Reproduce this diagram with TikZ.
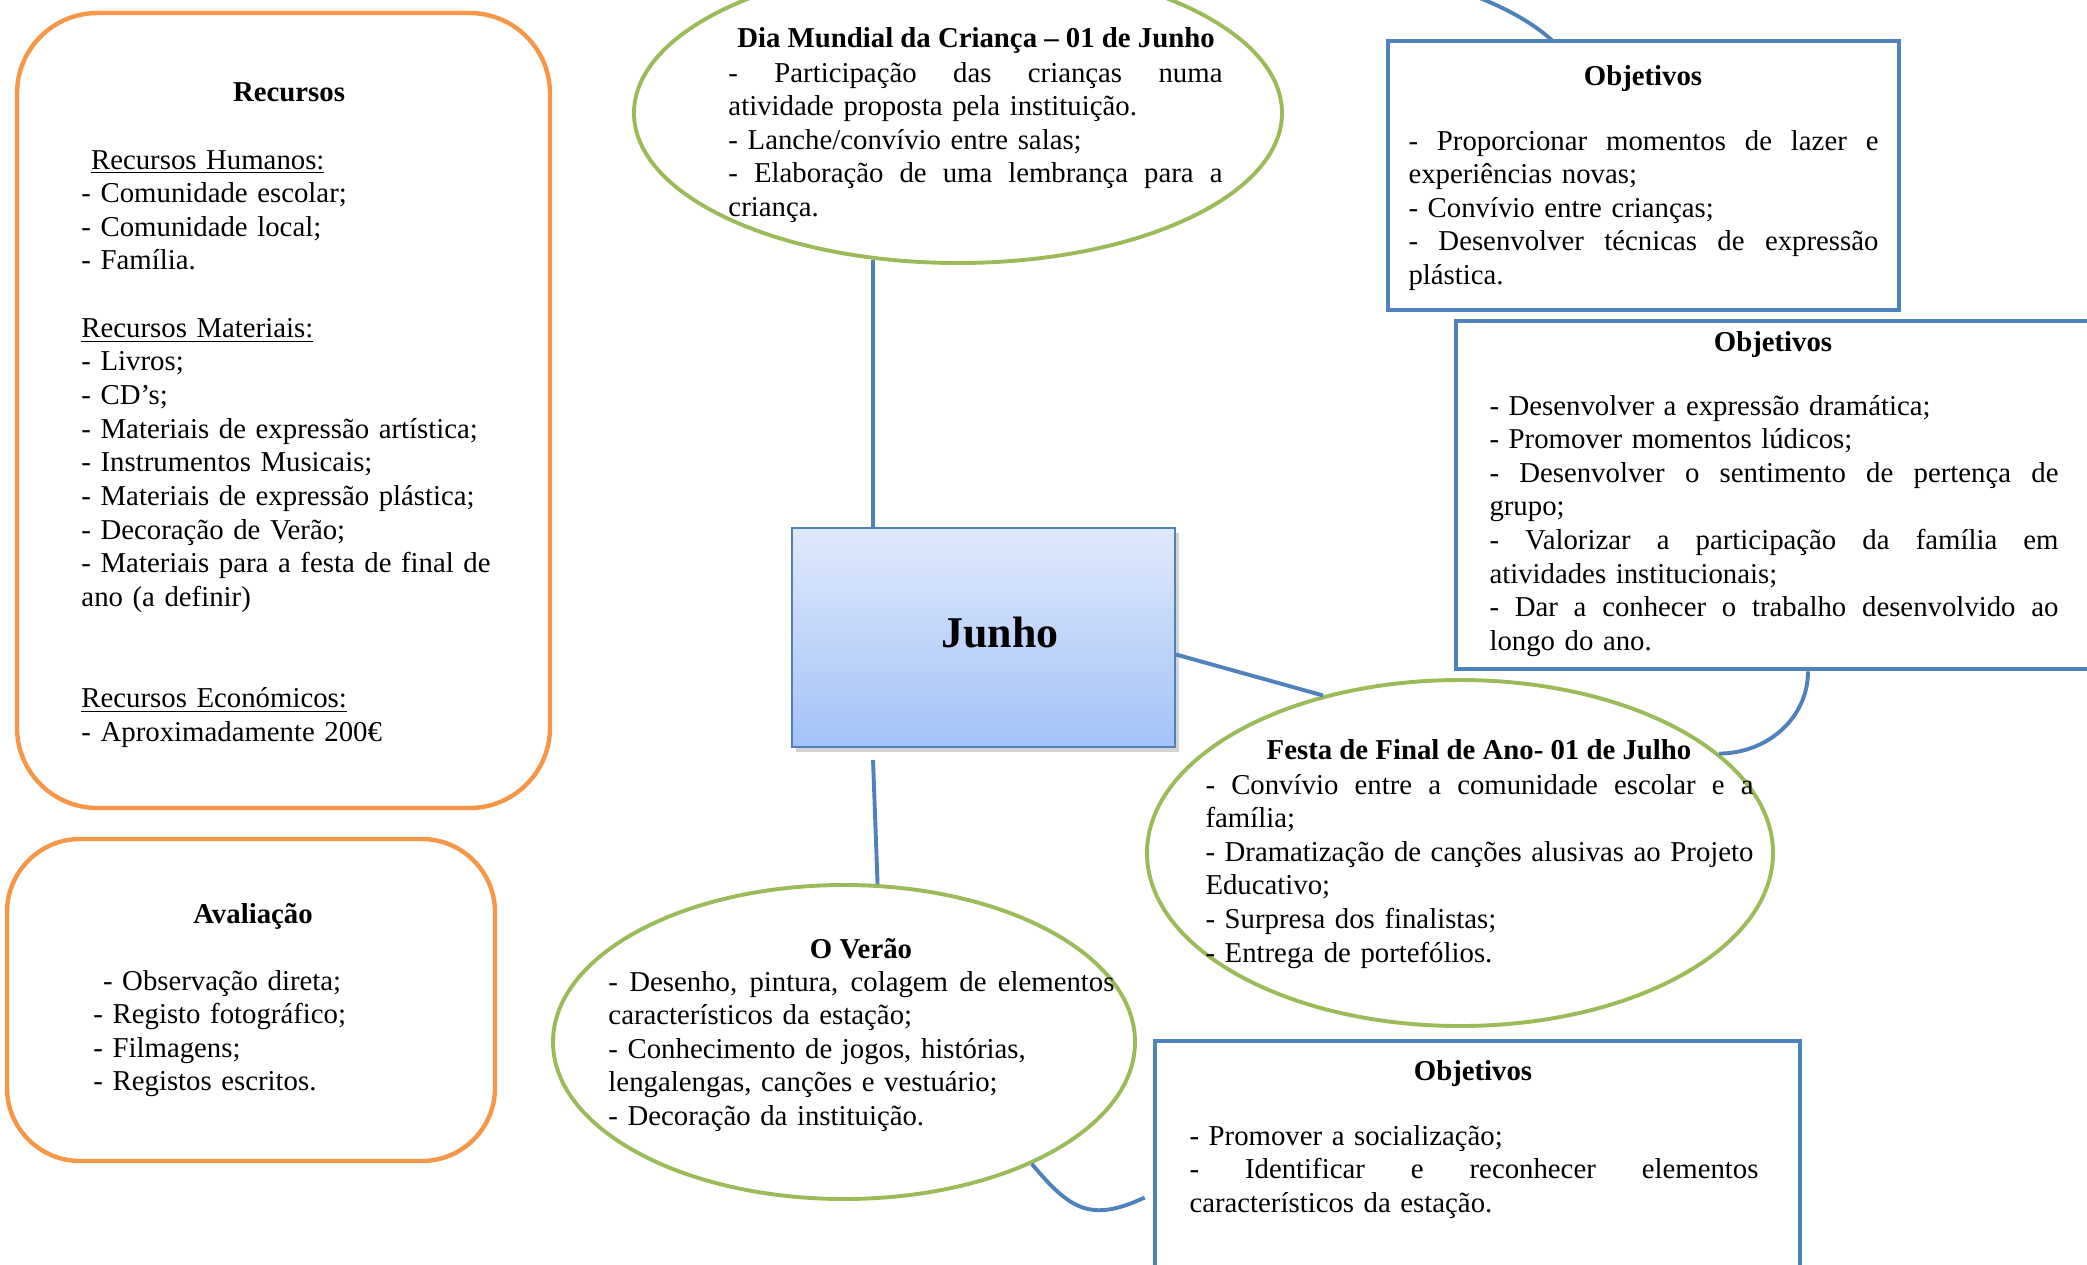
\documentclass[tikz,border=0pt]{standalone}
\usepackage{fontspec}
\setmainfont{Liberation Serif}
\usepackage{xcolor}
\usepackage{tikz}
\usetikzlibrary{shapes.geometric}
\usetikzlibrary{positioning}
\usetikzlibrary{calc}
\usetikzlibrary{shadows}
\definecolor{obgreen}{HTML}{9BBB59}
\definecolor{obblue}{HTML}{4F81BD}
\definecolor{oborange}{HTML}{F79646}
\definecolor{jtop}{HTML}{DFE9FC}
\definecolor{jbot}{HTML}{A3C2F7}
\newcommand\pxu{0.41pt}
% justified line: #1 = width in px, #2 = text
\newcommand\jl[2]{\makebox[\dimexpr\pxu*#1\relax][s]{\spaceskip=\fontdimen2\font plus 1fil\relax #2}}
\tikzset{
    ellnode/.style = {ellipse, draw=obgreen, line width=1.6pt, inner sep=0pt},
    objbox/.style = {rectangle, draw=obblue, line width=1.9pt, inner sep=0pt},
    resbox/.style = {rectangle, draw=oborange, line width=1.8pt, inner sep=0pt},
    ttl/.style = {font=\fontsize{11.8}{13.8}\selectfont\bfseries, anchor=base, inner sep=0pt},
    txtbody/.style = {anchor=base west, inner sep=0pt, align=left},
    link/.style = {draw=obblue, line width=1.6pt},
}

\begin{document}
\begin{tikzpicture}[
	x=0.41pt,
	y=-0.41pt,
	font=\fontsize{11.8}{13.8}\selectfont
]
\useasboundingbox (0,0) rectangle (2087,1264);
% shapes
\node[resbox, rounded corners=33pt, minimum width=533*\pxu, minimum height=795*\pxu] at (283.5,410.5) (recursos) {};
\node[resbox, rounded corners=30pt, minimum width=488*\pxu, minimum height=322*\pxu] at (251,1000) (avaliacao) {};
\node[ellnode, minimum width=648*\pxu, minimum height=300*\pxu] at (958,113) (dia) {};
\node[ellnode, minimum width=626*\pxu, minimum height=346*\pxu] at (1460,853) (festa) {};
\node[ellnode, minimum width=582*\pxu, minimum height=314*\pxu] at (844,1042) (verao) {};
\node[objbox, minimum width=511*\pxu, minimum height=269*\pxu] at (1643.5,175.5) (obj1) {};
\node[objbox, minimum width=644*\pxu, minimum height=348*\pxu] at (1778,495) (obj2) {};
\node[objbox, minimum width=645*\pxu, minimum height=239*\pxu] at (1477.5,1160.5) (obj3) {};
\node[rectangle, draw=obblue, line width=0.8pt, top color=jtop, bottom color=jbot,
      drop shadow={opacity=0.35, shadow xshift=1.5pt, shadow yshift=-2pt},
      minimum width=383*\pxu, minimum height=219*\pxu] at (983.5,637.5) (junho) {};
\node[font=\fontsize{18}{21.6}\selectfont\bfseries, anchor=base, inner sep=0pt] at (1000,647) (juntxt) {Junho};
%
\draw[link] (dia.240) -- (dia.240 |- junho.north);
\draw[link] ($(junho.south west)+(82,12)$) -- (verao.78);
\draw[link] ($(junho.east)+(0,17)$) -- (festa.131);
\draw[link] (dia.45) .. controls (1200,-60) and (1460,-45) .. ($(obj1.north)+(-90,3)$);
\draw[link] ($(obj2.south)+(30,0)$) to[out=-90,in=0] (festa.21);
\draw[link] (verao.-33) to[out=-50,in=205,looseness=1.3] ($(obj3.west)+(-8,37)$);
% Recursos
\node[ttl] at (289,101) (restit) {Recursos};
\node[txtbody, text width=450*\pxu] at (81,169) (restxt) {\ \underline{Recursos Humanos:}\\
- Comunidade escolar;\\
- Comunidade local;\\
- Família.\\[13.8pt]
\underline{Recursos Materiais:}\\
- Livros;\\
- CD’s;\\
- Materiais de expressão artística;\\
- Instrumentos Musicais;\\
- Materiais de expressão plástica;\\
- Decoração de Verão;\\
- Materiais para a festa de final de\\
ano (a definir)\\[27.6pt]
\underline{Recursos Económicos:}\\
- Aproximadamente 200€};
% Avaliacao
\node[ttl] at (253,923) (avatit) {Avaliação};
\node[txtbody, text width=380*\pxu] at (93,990) (avatxt) {\ - Observação direta;\\
- Registo fotográfico;\\
- Filmagens;\\
- Registos escritos.};
% Dia Mundial
\node[ttl] at (976,47) (diatit) {Dia Mundial da Criança – 01 de Junho};
\node[txtbody, text width=494*\pxu] at (728,82) (diatxt) {\jl{494}{- Participação das crianças numa}\\
atividade proposta pela instituição.\\
- Lanche/convívio entre salas;\\
\jl{494}{- Elaboração de uma lembrança para a}\\
criança.};
% Festa
\node[ttl] at (1479,759) (festit) {Festa de Final de Ano- 01 de Julho};
\node[txtbody, text width=548*\pxu] at (1205,794) (festxt) {\jl{548}{- Convívio entre a comunidade escolar e a}\\
família;\\
\jl{548}{- Dramatização de canções alusivas ao Projeto}\\
Educativo;\\
- Surpresa dos finalistas;\\
- Entrega de portefólios.};
% O Verao
\node[ttl] at (861,958) (vertit) {O Verão};
\node[txtbody, text width=506*\pxu] at (608,991) (vertxt) {\jl{506}{- Desenho, pintura, colagem de elementos}\\
característicos da estação;\\
- Conhecimento de jogos, histórias,\\
lengalengas, canções e vestuário;\\
- Decoração da instituição.};
% Objetivos
\node[ttl] at (1643,85) (ob1tit) {Objetivos};
\node[txtbody, text width=470*\pxu] at (1408,150) (ob1txt) {\jl{470}{- Proporcionar momentos de lazer e}\\
experiências novas;\\
- Convívio entre crianças;\\
\jl{470}{- Desenvolver técnicas de expressão}\\
plástica.};
\node[ttl] at (1773,351) (ob2tit) {Objetivos};
\node[txtbody, text width=569*\pxu] at (1489,415) (ob2txt) {- Desenvolver a expressão dramática;\\
- Promover momentos lúdicos;\\
\jl{569}{- Desenvolver o sentimento de pertença de}\\
grupo;\\
\jl{569}{- Valorizar a participação da família em}\\
atividades institucionais;\\
\jl{569}{- Dar a conhecer o trabalho desenvolvido ao}\\
longo do ano.};
\node[ttl] at (1473,1080) (ob3tit) {Objetivos};
\node[txtbody, text width=569*\pxu] at (1189,1145) (ob3txt) {- Promover a socialização;\\
\jl{569}{- Identificar e reconhecer elementos}\\
característicos da estação.};
\end{tikzpicture}
\end{document}
